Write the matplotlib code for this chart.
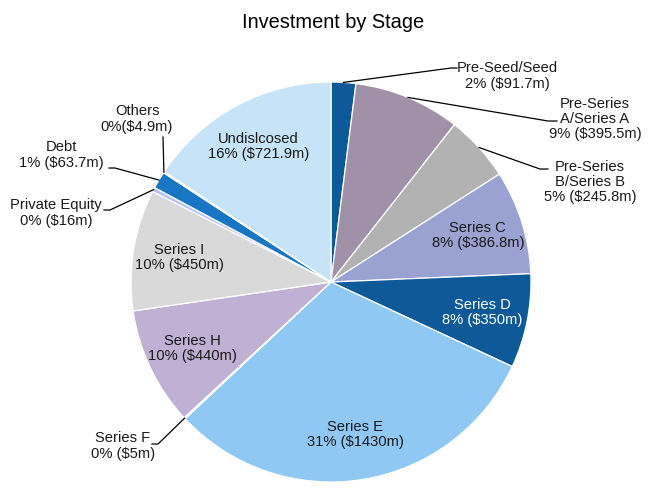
import matplotlib.pyplot as plt
import numpy as np

plt.rcParams["font.family"] = ["Liberation Sans", "DejaVu Sans"]

stages = ["Pre-Seed/Seed", "Pre-Series\nA/Series A", "Pre-Series\nB/Series B", "Series C",
          "Series D", "Series E", "Series F", "Series H", "Series I", "Private Equity",
          "Debt", "Others", "Undislcosed"]
pct_labels = ["2% ($91.7m)", "9% ($395.5m)", "5% ($245.8m)", "8% ($386.8m)", "8% ($350m)",
              "31% ($1430m)", "0% ($5m)", "10% ($440m)", "10% ($450m)", "0% ($16m)",
              "1% ($63.7m)", "0%($4.9m)", "16% ($721.9m)"]
amounts = [91.7, 395.5, 245.8, 386.8, 350, 1430, 5, 440, 450, 16, 63.7, 4.9, 721.9]
colors = ["#0E5A98", "#A090A8", "#B2B2B2", "#9AA2D2", "#0E5A98", "#8FC9F3", "#D8D8D8",
          "#C0B1D4", "#D9D9D9", "#B9C3F2", "#1876C2", "#E8E8E8", "#C6E3F8"]

# which labels go inside the wedge, and where the outside ones sit (elbow, line end, text centre)
inside = {3, 4, 5, 7, 8, 12}
outside_pos = {
    0: ((0.60, 1.07), (0.63, 1.07), (0.88, 1.03)),
    1: ((1.085, 0.805), (1.13, 0.805), (1.32, 0.815)),
    2: ((1.045, 0.565), (1.085, 0.565), (1.295, 0.50)),
    6: ((-0.865, -0.81), (-0.895, -0.81), (-1.04, -0.82)),
    9: ((-1.105, 0.36), (-1.135, 0.36), (-1.375, 0.345)),
    10: ((-1.08, 0.57), (-1.11, 0.57), (-1.35, 0.635)),
    11: ((-0.84, 0.725), (-0.84, 0.725), (-0.97, 0.815)),
}

fig = plt.figure(figsize=(6.67, 4.92), dpi=100)
ax = fig.add_axes([0.1964, 0.0203, 0.5997, 0.813])

wedges, _ = ax.pie(amounts, colors=colors, startangle=90, counterclock=False, radius=1,
                   wedgeprops=dict(edgecolor="white", linewidth=0.9))

for i, w in enumerate(wedges):
    mid = np.deg2rad((w.theta1 + w.theta2) / 2)
    text = stages[i] + "\n" + pct_labels[i]
    if i in inside:
        r = 0.77
        tcolor = "white" if i == 4 else "#1a1a1a"
        ax.text(r * np.cos(mid), r * np.sin(mid), text, ha="center", va="center",
                fontsize=10.6, color=tcolor, linespacing=1.1)
    else:
        elbow, end, tpos = outside_pos[i]
        anchor = (np.cos(mid), np.sin(mid))
        ax.plot([anchor[0], elbow[0], end[0]], [anchor[1], elbow[1], end[1]],
                color="black", lw=0.9, clip_on=False)
        ax.text(tpos[0], tpos[1], text, ha="center", va="center", fontsize=10.6,
                color="#1a1a1a", linespacing=1.1)

ax.set_xlim(-1, 1)
ax.set_ylim(-1, 1)
ax.set_aspect("equal")
ax.axis("off")

fig.text(0.5, 0.955, "Investment by Stage", ha="center", va="center", fontsize=14.4)

plt.savefig("out.png", dpi=100)
